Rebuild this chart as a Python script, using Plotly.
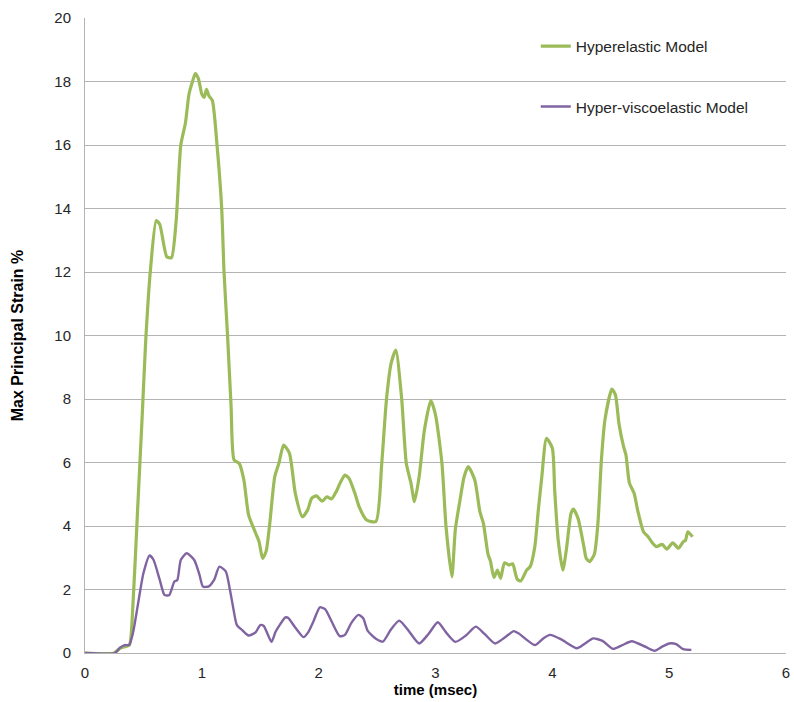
import plotly.graph_objects as go

# Hyperelastic model: time (msec) vs max principal strain (%)
hyper_t = [0.0, 0.25, 0.30, 0.34, 0.38, 0.41, 0.45, 0.49, 0.52, 0.56, 0.61, 0.64, 0.70, 0.74,
           0.78, 0.82, 0.86, 0.89, 0.92, 0.944, 0.97, 1.00, 1.02, 1.04, 1.06, 1.09, 1.13, 1.17,
           1.19, 1.22, 1.25, 1.276, 1.32, 1.36, 1.40, 1.46, 1.49, 1.52, 1.55, 1.58, 1.624, 1.66,
           1.70, 1.75, 1.80, 1.86, 1.905, 1.94, 1.98, 2.03, 2.07, 2.11, 2.15, 2.19, 2.225, 2.26,
           2.31, 2.347, 2.41, 2.49, 2.54, 2.58, 2.62, 2.66, 2.71, 2.75, 2.79, 2.82, 2.86, 2.905,
           2.96, 3.00, 3.055, 3.09, 3.14, 3.17, 3.21, 3.245, 3.28, 3.336, 3.38, 3.41, 3.45, 3.47,
           3.50, 3.53, 3.557, 3.59, 3.63, 3.66, 3.70, 3.73, 3.78, 3.81, 3.85, 3.88, 3.91, 3.95,
           4.00, 4.02, 4.05, 4.09, 4.12, 4.16, 4.18, 4.22, 4.27, 4.29, 4.32, 4.36, 4.39, 4.42,
           4.45, 4.51, 4.54, 4.57, 4.61, 4.63, 4.66, 4.70, 4.73, 4.78, 4.82, 4.85, 4.89, 4.94,
           4.98, 5.03, 5.08, 5.12, 5.14, 5.16, 5.20]
hyper_s = [0.0, 0.0, 0.15, 0.2, 0.25, 1.5, 4.5, 7.5, 9.86, 12.06, 13.62, 13.5, 12.48, 12.45,
           13.6, 16.0, 16.7, 17.6, 18.0, 18.25, 18.1, 17.6, 17.5, 17.75, 17.55, 17.4, 16.0, 14.0,
           12.0, 10.0, 7.8, 6.08, 5.97, 5.45, 4.35, 3.78, 3.5, 2.98, 3.2, 4.03, 5.55, 5.98,
           6.55, 6.29, 5.03, 4.29, 4.5, 4.87, 4.95, 4.78, 4.92, 4.85, 5.08, 5.4, 5.6, 5.5,
           5.03, 4.6, 4.19, 4.14, 5.98, 7.97, 9.12, 9.54, 8.03, 5.98, 5.35, 4.77, 5.55, 7.02,
           7.95, 7.5, 5.98, 3.98, 2.40, 3.9, 4.82, 5.55, 5.87, 5.45, 4.45, 4.08, 3.1, 2.9,
           2.38, 2.61, 2.35, 2.84, 2.77, 2.81, 2.32, 2.27, 2.61, 2.72, 3.35, 4.5, 5.55, 6.76,
           6.45, 5.13, 3.56, 2.61, 3.25, 4.4, 4.53, 4.24, 3.35, 2.98, 2.88, 3.12, 4.08, 6.08,
           7.34, 8.31, 8.13, 7.23, 6.5, 6.24, 5.35, 5.03, 4.5, 3.82, 3.66, 3.5, 3.35, 3.42,
           3.27, 3.47, 3.3, 3.5, 3.55, 3.82, 3.66]

# Hyper-viscoelastic model
visco_t = [0.0, 0.255, 0.30, 0.34, 0.377, 0.41, 0.45, 0.50, 0.553, 0.587, 0.64, 0.68, 0.72,
           0.765, 0.79, 0.82, 0.87, 0.935, 0.98, 1.01, 1.06, 1.105, 1.15, 1.205, 1.24, 1.267,
           1.30, 1.346, 1.40, 1.46, 1.50, 1.53, 1.596, 1.63, 1.67, 1.715, 1.74, 1.80, 1.87,
           1.91, 1.956, 2.01, 2.055, 2.11, 2.18, 2.225, 2.28, 2.34, 2.38, 2.42, 2.49, 2.55,
           2.62, 2.69, 2.76, 2.86, 2.94, 3.02, 3.09, 3.17, 3.26, 3.345, 3.42, 3.51, 3.59, 3.67,
           3.71, 3.85, 3.92, 3.98, 4.08, 4.21, 4.28, 4.35, 4.43, 4.52, 4.60, 4.68, 4.80, 4.875,
           4.94, 5.00, 5.06, 5.12, 5.19]
visco_s = [0.0, 0.0, 0.17, 0.25, 0.25, 0.62, 1.46, 2.51, 3.07, 2.93, 2.30, 1.83, 1.82,
           2.25, 2.30, 2.93, 3.14, 2.93, 2.46, 2.09, 2.1, 2.30, 2.72, 2.57, 2.0, 1.46,
           0.88, 0.72, 0.55, 0.65, 0.88, 0.85, 0.35, 0.66, 0.9, 1.12, 1.1, 0.8, 0.5,
           0.65, 1.0, 1.44, 1.38, 1.0, 0.53, 0.57, 0.95, 1.20, 1.1, 0.7, 0.45, 0.36,
           0.75, 1.02, 0.75, 0.30, 0.6, 0.97, 0.65, 0.35, 0.55, 0.83, 0.6, 0.30, 0.48, 0.69,
           0.62, 0.25, 0.45, 0.57, 0.42, 0.15, 0.3, 0.46, 0.38, 0.13, 0.25, 0.37, 0.19, 0.07,
           0.2, 0.30, 0.28, 0.12, 0.1]

x_ticks = [0, 1, 2, 3, 4, 5, 6]
y_ticks = [0, 2, 4, 6, 8, 10, 12, 14, 16, 18, 20]

GREEN = "#9bbb59"
PURPLE = "#8064a2"
GRID = "#b3b3b3"
TEXT = "#262626"
TICK_FONT = dict(family="Liberation Sans, sans-serif", size=15, color=TEXT)
TITLE_FAMILY = "Liberation Sans Narrow, Liberation Sans, sans-serif"

fig = go.Figure()
fig.add_trace(go.Scatter(
    x=hyper_t, y=hyper_s, mode="lines", name="Hyperelastic Model",
    line=dict(color=GREEN, width=3.2, shape="spline", smoothing=0.6),
    legend="legend",
))
fig.add_trace(go.Scatter(
    x=visco_t, y=visco_s, mode="lines", name="Hyper-viscoelastic Model",
    line=dict(color=PURPLE, width=2.4, shape="spline", smoothing=0.6),
    legend="legend2",
))

legend_common = dict(
    bgcolor="rgba(0,0,0,0)", borderwidth=0, xanchor="left", yanchor="middle",
    font=dict(family="Liberation Sans, sans-serif", size=15.5, color=TEXT),
    itemwidth=30,
)
fig.update_layout(
    width=794, height=702,
    margin=dict(l=85, r=4, t=18, b=49),
    paper_bgcolor="white", plot_bgcolor="white",
    showlegend=True,
    legend=dict(x=0.643, y=0.955, **legend_common),
    legend2=dict(x=0.643, y=0.86, **legend_common),
    xaxis=dict(
        range=[0, 6], tickvals=x_ticks, ticktext=[str(v) for v in x_ticks],
        showgrid=False, zeroline=False, showline=True, linecolor=GRID, linewidth=1,
        ticks="outside", ticklen=6, tickcolor="rgba(0,0,0,0)",
        tickfont=TICK_FONT, ticklabeloverflow="allow",
        title=dict(text="<b>time (msec)</b>", standoff=4,
                   font=dict(family=TITLE_FAMILY, size=15, color="black")),
    ),
    yaxis=dict(
        range=[0, 20], tickvals=y_ticks, ticktext=[str(v) for v in y_ticks],
        showgrid=True, gridcolor=GRID, gridwidth=1, zeroline=False,
        showline=True, linecolor=GRID, linewidth=1,
        ticks="outside", ticklen=10, tickcolor="rgba(0,0,0,0)",
        tickfont=TICK_FONT,
        title=dict(text="<b>Max Principal Strain %</b>", standoff=26,
                   font=dict(family=TITLE_FAMILY, size=16, color="black")),
    ),
)

fig.write_html("out.html")
